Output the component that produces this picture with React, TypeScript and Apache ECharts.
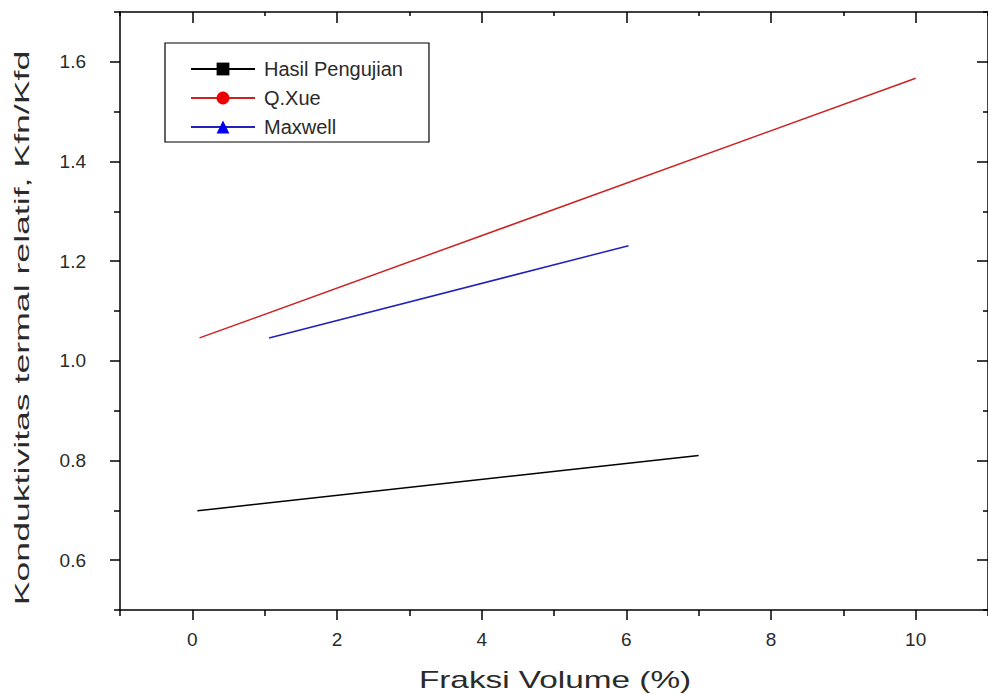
import React, { useEffect, useRef } from "react";
import * as echarts from "echarts";

const seriesNames = ["Hasil Pengujian", "Q.Xue", "Maxwell"];
const hasilPengujian: [number, number][] = [
  [0.07, 0.699],
  [7.0, 0.81],
];
const qXue: [number, number][] = [
  [0.1, 1.046],
  [10.0, 1.567],
];
const maxwell: [number, number][] = [
  [1.06, 1.046],
  [6.03, 1.231],
];
const xMajorTicks = [0, 2, 4, 6, 8, 10];
const yMajorTicks = [0.6, 0.8, 1.0, 1.2, 1.4, 1.6];
const xTitle = "Fraksi Volume (%)";
const yTitle = "Konduktivitas termal relatif, Kfn/Kfd";

const FONT = "'Liberation Sans', Arial, sans-serif";
const TXT = "#2a2a2a";
const BLACK = { color: "#000", width: 1.5 };

export default function App() {
  const ref = useRef<HTMLDivElement>(null);
  useEffect(() => {
    if (!ref.current) return;
    const chart = echarts.init(ref.current, undefined, { renderer: "svg" });
    const X_MIN = -1, X_MAX = 11, Y_MIN = 0.5, Y_MAX = 1.7;
    const xBase = { type: "value", min: X_MIN, max: X_MAX, splitLine: { show: false } };
    const yBase = { type: "value", min: Y_MIN, max: Y_MAX, splitLine: { show: false } };
    chart.setOption({
      animation: false,
      backgroundColor: "#fff",
      textStyle: { fontFamily: FONT },
      grid: { left: 120, top: 12, right: -5.5, bottom: 84, containLabel: false },
      legend: {
        orient: "vertical",
        left: 165,
        top: 43,
        padding: [16, 26, 5, 25],
        itemGap: 9,
        itemWidth: 64,
        itemHeight: 16,
        borderColor: "#000",
        borderWidth: 1.2,
        backgroundColor: "#fff",
        textStyle: { fontFamily: FONT, fontSize: 20, color: TXT, padding: [0, 0, 0, 4] },
        data: seriesNames,
      },
      graphic: [
        {
          type: "text",
          x: 22,
          y: 328,
          rotation: Math.PI / 2,
          scaleX: 1.62,
          scaleY: 0.95,
          style: {
            text: yTitle,
            fontSize: 22,
            fontFamily: FONT,
            fill: TXT,
            align: "center",
            verticalAlign: "middle",
          },
        },
        {
          type: "text",
          x: 555,
          y: 680,
          scaleX: 1.45,
          scaleY: 1,
          style: {
            text: xTitle,
            fontSize: 23,
            fontFamily: FONT,
            fill: TXT,
            align: "center",
            verticalAlign: "middle",
          },
        },
      ],
      xAxis: [
        {
          ...xBase,
          position: "bottom",
          interval: 1,
          axisLine: { show: true, onZero: false, lineStyle: BLACK },
          axisTick: { show: true, inside: false, length: 10, customValues: xMajorTicks, lineStyle: BLACK },
          axisLabel: {
            margin: 20,
            fontSize: 19,
            color: TXT,
            fontFamily: FONT,
            customValues: xMajorTicks,
          },
        },
        {
          ...xBase,
          position: "bottom",
          interval: 2,
          axisLine: { show: false, onZero: false },
          axisTick: { show: true, inside: false, length: 6, lineStyle: BLACK },
          axisLabel: { show: false },
        },
        {
          ...xBase,
          position: "top",
          interval: 1,
          axisLine: { show: true, onZero: false, lineStyle: BLACK },
          axisTick: { show: true, inside: true, length: 11, customValues: xMajorTicks, lineStyle: BLACK },
          axisLabel: { show: false },
        },
        {
          ...xBase,
          position: "top",
          interval: 2,
          axisLine: { show: false, onZero: false },
          axisTick: { show: true, inside: true, length: 4, lineStyle: BLACK },
          axisLabel: { show: false },
        },
      ],
      yAxis: [
        {
          ...yBase,
          position: "left",
          interval: 0.1,
          axisLine: { show: true, onZero: false, lineStyle: BLACK },
          axisTick: { show: true, inside: false, length: 10, customValues: yMajorTicks, lineStyle: BLACK },
          axisLabel: {
            margin: 34,
            fontSize: 19,
            color: TXT,
            fontFamily: FONT,
            customValues: yMajorTicks,
            formatter: (v: number) => v.toFixed(1),
          },
        },
        {
          ...yBase,
          position: "left",
          interval: 0.2,
          axisLine: { show: false, onZero: false },
          axisTick: { show: true, inside: false, length: 6, lineStyle: BLACK },
          axisLabel: { show: false },
        },
        {
          ...yBase,
          position: "right",
          interval: 0.1,
          axisLine: { show: true, onZero: false, lineStyle: BLACK },
          axisTick: { show: true, inside: true, length: 11, customValues: yMajorTicks, lineStyle: BLACK },
          axisLabel: { show: false },
        },
        {
          ...yBase,
          position: "right",
          interval: 0.2,
          axisLine: { show: false, onZero: false },
          axisTick: { show: true, inside: true, length: 5, lineStyle: BLACK },
          axisLabel: { show: false },
        },
      ],
      series: [
        {
          name: seriesNames[0],
          type: "line",
          data: hasilPengujian,
          symbol: "rect",
          symbolSize: 12,
          showSymbol: false,
          color: "#000000",
          lineStyle: { color: "#000000", width: 1.5 },
        },
        {
          name: seriesNames[1],
          type: "line",
          data: qXue,
          symbol: "circle",
          symbolSize: 14,
          showSymbol: false,
          color: "#ee0000",
          lineStyle: { color: "#cc2222", width: 1.5 },
        },
        {
          name: seriesNames[2],
          type: "line",
          data: maxwell,
          symbol: "triangle",
          symbolSize: 14,
          showSymbol: false,
          color: "#0000ee",
          lineStyle: { color: "#2222bb", width: 1.5 },
        },
      ],
    });
    return () => chart.dispose();
  }, []);
  return (
    <div
      ref={ref}
      style={{ position: "fixed", left: 0, top: 0, width: 988, height: 694 }}
    />
  );
}
